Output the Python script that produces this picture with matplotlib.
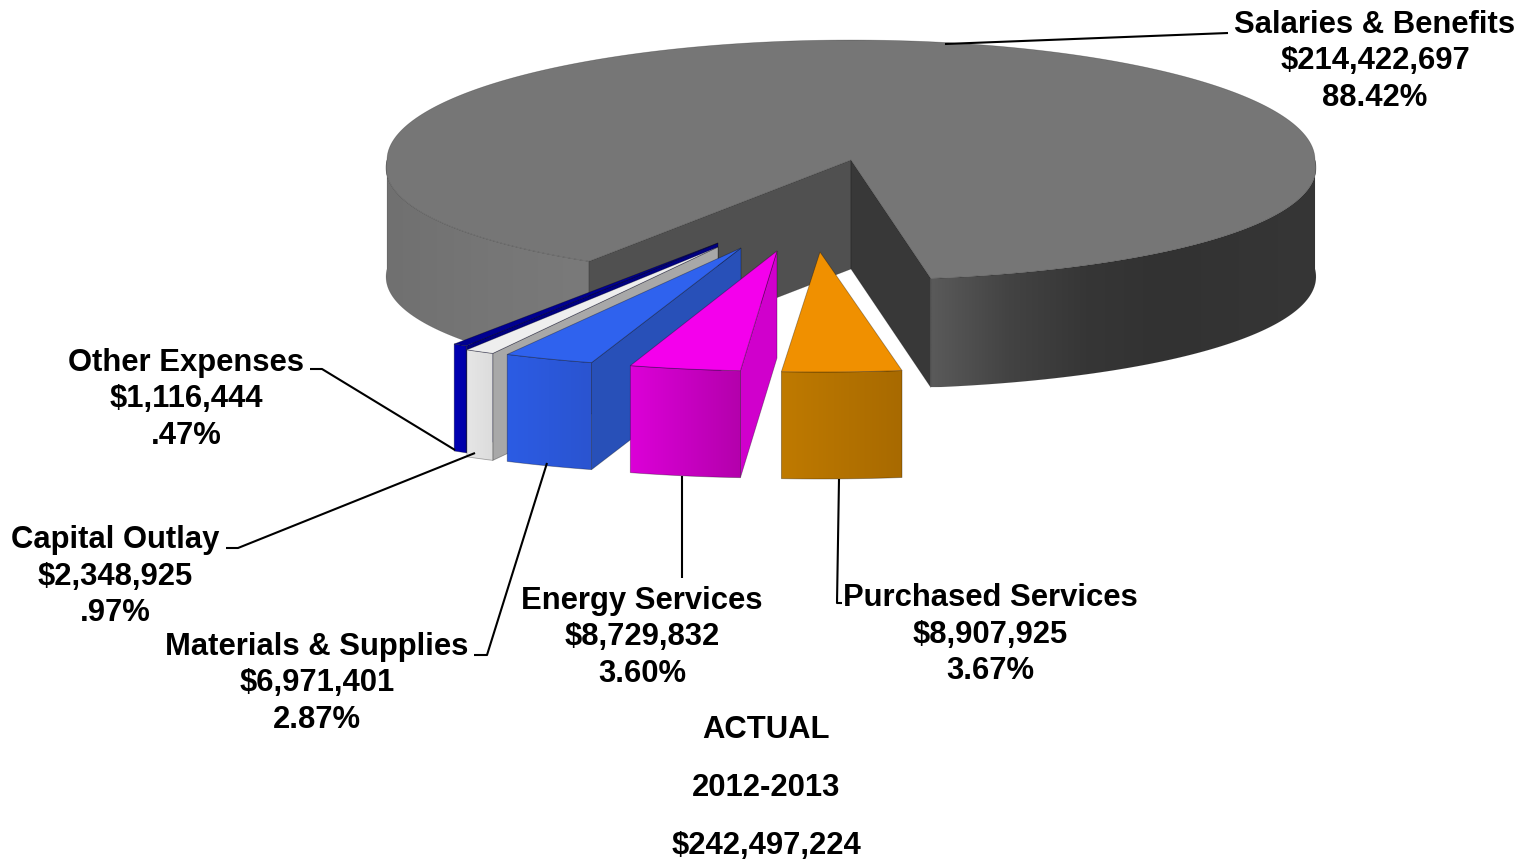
import numpy as np
import matplotlib
matplotlib.use("Agg")
import matplotlib.pyplot as plt
from matplotlib.colors import LinearSegmentedColormap
from matplotlib.patches import Polygon

plt.rcParams['font.family'] = ['Liberation Sans', 'DejaVu Sans']

# expense categories, main slice first, then clockwise round the gap
categories = ['Salaries & Benefits', 'Purchased Services', 'Energy Services',
              'Materials & Supplies', 'Capital Outlay', 'Other Expenses']
amounts = [214422697, 8907925, 8729832, 6971401, 2348925, 1116444]
percent_labels = ['88.42%', '3.67%', '3.60%', '2.87%', '.97%', '.47%']
title_lines = ['ACTUAL', '2012-2013', '$242,497,224']

# pie geometry in pixels
cx, cy = 851, 160
rx, ry = 464, 120
depth = 109
slice_depth = 107
start = -80.7
slice_start = -81.0

# pulled out slices: apex position, width stretch
apex = [(820, 252), (777, 251), (741, 248), (718, 247), (718, 243)]
stretch = [1.13, 1.07, 1.09, 1.05, 1.053]

top_cols = ['#f09000', '#f400ec', '#2f62ee', '#eeeeee', '#000090']
front_cols = [('#bf7a00', '#a86a00'), ('#dc00d8', '#b400ac'), ('#2c5ce4', '#2a54d0'),
              ('#e6e6e6', '#dcdcdc'), ('#0000b4', '#0000a8')]
side_cols = [None, '#d000cc', '#2850b8', '#a8a8a8', '#000080']

label_xy = [(1375, 25), (990, 598), (642, 601), (317, 647), (115, 540), (186, 363)]
leaders = [[(945, 44), (1228, 33)],
           [(839, 479), (837, 603), (842, 603)],
           [(682, 476), (682, 578)],
           [(547, 463), (487, 655), (474, 655)],
           [(475, 453), (238, 548), (226, 548)],
           [(455, 450), (322, 369), (310, 369)]]

fig = plt.figure(figsize=(15.26, 8.59), dpi=100)
ax = fig.add_axes([0, 0, 1, 1])
ax.set_xlim(0, 1526)
ax.set_ylim(859, 0)
ax.axis('off')


def pie_xy(theta, x0=cx, y0=cy, k=0.0):
    t = np.radians(theta)
    front = np.maximum(-np.sin(t), 0)
    return x0 + rx * np.cos(t) * (1 + k * front), y0 - ry * np.sin(t)


def gradient_poly(pts, cols, z, lw=0.6, ec='#00000055'):
    # horizontal colour ramp clipped to a polygon
    pts = np.array(pts)
    cmap = LinearSegmentedColormap.from_list('ramp', cols)
    patch = Polygon(pts, closed=True, fc='none', ec=ec, lw=lw, zorder=z + 0.1)
    ax.add_patch(patch)
    im = ax.imshow(np.linspace(0, 1, 256)[None, :], cmap=cmap, aspect='auto', zorder=z,
                   extent=[pts[:, 0].min(), pts[:, 0].max(), pts[:, 1].max(), pts[:, 1].min()])
    im.set_clip_path(patch)
    ax.set_xlim(0, 1526)
    ax.set_ylim(859, 0)


total = sum(amounts)
sweeps = [a / total * 360 for a in amounts]
k_main = 0.065

# main slice runs the long way round from the right edge of the gap
main_th = np.linspace(start, start + sweeps[0], 400)
mx, my = pie_xy(main_th, k=k_main)
gap_r = (mx[0], my[0])
gap_l = (mx[-1], my[-1])

# outer wall, left part
th = np.linspace(180, start + sweeps[0], 100)
x, y = pie_xy(th, k=k_main)
gradient_poly(list(zip(x, y)) + list(zip(x[::-1], y[::-1] + depth)),
              ['#707070', '#767676', '#7a7a7a'], 1, lw=0.4, ec='#00000033')

# outer wall, right part
th = np.linspace(start, 0, 100)
x, y = pie_xy(th, k=k_main)
gradient_poly(list(zip(x, y)) + list(zip(x[::-1], y[::-1] + depth)),
              ['#5a5a5a', '#434343', '#363636', '#323232', '#343434', '#363636'], 1, lw=0.3, ec='#00000022')

# walls of the gap
ax.add_patch(Polygon([(cx, cy), gap_l, (gap_l[0], gap_l[1] + depth), (cx, cy + depth)],
                     fc='#505050', ec='#00000044', lw=0.5, zorder=2))
ax.add_patch(Polygon([(cx, cy), gap_r, (gap_r[0], gap_r[1] + depth), (cx, cy + depth)],
                     fc='#383838', ec='#00000044', lw=0.5, zorder=2))

# top face
ax.add_patch(Polygon(list(zip(mx, my)) + [(cx, cy)], fc='#767676', ec='#00000044',
                     lw=0.5, zorder=3))

# pulled out slices, drawn left to right so the nearer ones overlap
angle = slice_start
slices = []
for i in range(1, 6):
    a1 = angle
    a2 = angle - sweeps[i]
    angle = a2
    slices.append((i - 1, a1, a2))

for idx, a1, a2 in reversed(slices):
    ax0, ay0 = apex[idx]
    th = np.linspace(a1, a2, 12)
    t = np.radians(th)
    fx = ax0 + rx * np.cos(t) * stretch[idx]
    fy = ay0 - ry * np.sin(t)
    z = 5 + (5 - idx)
    if side_cols[idx] is not None:
        ax.add_patch(Polygon([(ax0, ay0), (fx[0], fy[0]), (fx[0], fy[0] + slice_depth),
                              (ax0, ay0 + slice_depth)],
                             fc=side_cols[idx], ec='#00000055', lw=0.6, zorder=z))
    gradient_poly(list(zip(fx, fy)) + list(zip(fx[::-1], fy[::-1] + slice_depth)),
                  [front_cols[idx][0], front_cols[idx][1]], z + 0.2)
    ax.add_patch(Polygon([(ax0, ay0)] + list(zip(fx, fy)), fc=top_cols[idx], ec='#00000055',
                         lw=0.6, zorder=z + 0.4))

# leader lines
for pts in leaders:
    xs, ys = zip(*pts)
    ax.plot(xs, ys, color='black', lw=1.5, zorder=20, solid_capstyle='butt')

# labels
for name, amt, pct, (lx, ly) in zip(categories, amounts, percent_labels, label_xy):
    for j, line in enumerate([name, '${:,}'.format(amt), pct]):
        ax.text(lx, ly + j * 36.5, line, ha='center', va='center', fontsize=22.3,
                fontweight='bold', color='black', zorder=21)

for j, line in enumerate(title_lines):
    ax.text(766, 730 + j * 58, line, ha='center', va='center', fontsize=22.3,
            fontweight='bold', color='black', zorder=21)

fig.savefig('out.png', dpi=100)
